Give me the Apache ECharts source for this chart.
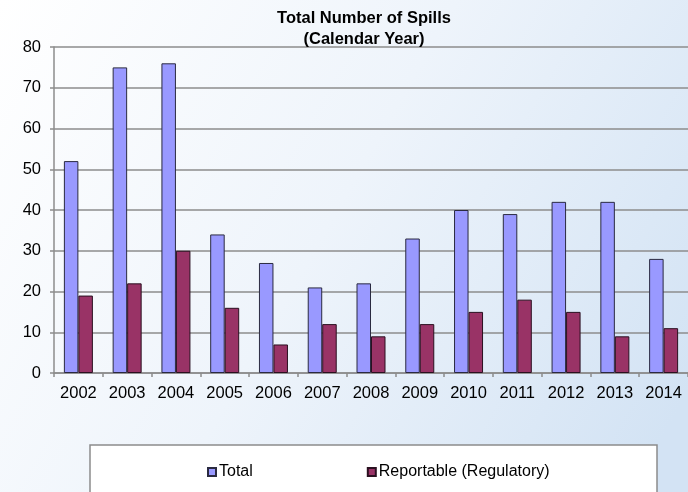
<!DOCTYPE html>
<html>
<head>
<meta charset="utf-8">
<script src="https://cdn.jsdelivr.net/npm/echarts@6/dist/echarts.min.js"></script>
<style>
  html, body { margin: 0; padding: 0; }
  #chart { width: 688px; height: 492px; }
</style>
</head>
<body>
<div id="chart"></div>
<script>
// Spill counts per calendar year
const years = ['2002', '2003', '2004', '2005', '2006', '2007', '2008', '2009', '2010', '2011', '2012', '2013', '2014'];
const totalSpills = [52, 75, 76, 34, 27, 21, 22, 33, 40, 39, 42, 42, 28];
const reportableSpills = [19, 22, 30, 16, 7, 12, 9, 12, 15, 18, 15, 9, 11];
const yTicks = [0, 10, 20, 30, 40, 50, 60, 70, 80];

const FONT = '"Liberation Sans", Arial, sans-serif';
const axisGray = '#8c8c8c';

const chart = echarts.init(document.getElementById('chart'), null, { renderer: 'canvas' });

chart.setOption({
  animation: false,
  backgroundColor: {
    type: 'linear', x: 0, y: 0, x2: 1, y2: 0.8,
    colorStops: [
      { offset: 0, color: '#ffffff' },
      { offset: 0.5, color: '#eef4fb' },
      { offset: 1, color: '#d3e3f4' }
    ]
  },
  title: {
    text: 'Total Number of Spills\n(Calendar Year)',
    left: 364,
    top: 8,
    padding: 0,
    textAlign: 'center',
    textStyle: {
      fontFamily: FONT,
      fontWeight: 'bold',
      fontSize: 16.5,
      lineHeight: 21,
      color: '#000'
    }
  },
  graphic: [{
    type: 'rect',
    z: -1,
    shape: { x: 90, y: 445, width: 567, height: 60 },
    style: { fill: '#ffffff', stroke: '#8c8c8c', lineWidth: 1.5 }
  }],
  legend: {
    left: 202,
    top: 459,
    itemWidth: 8,
    itemHeight: 8,
    itemGap: 114,
    icon: 'rect',
    textStyle: { fontFamily: FONT, fontSize: 16, color: '#000', padding: [0, 0, 0, -2] },
    data: ['Total', 'Reportable (Regulatory)']
  },
  grid: {
    left: 54,
    right: -4,
    top: 47,
    bottom: 119,
    containLabel: false
  },
  xAxis: {
    type: 'category',
    data: years,
    axisLine: { lineStyle: { color: axisGray, width: 1.5 } },
    axisTick: { show: true, alignWithLabel: false, length: 4, lineStyle: { color: axisGray, width: 1.5 } },
    axisLabel: { fontFamily: FONT, fontSize: 16.5, color: '#000', margin: 12 },
    splitLine: { show: false }
  },
  yAxis: {
    type: 'value',
    min: yTicks[0],
    max: yTicks[yTicks.length - 1],
    interval: yTicks[1] - yTicks[0],
    axisLine: { show: true, lineStyle: { color: axisGray, width: 1.5 } },
    axisTick: { show: true, length: 4, lineStyle: { color: axisGray, width: 1.5 } },
    axisLabel: { fontFamily: FONT, fontSize: 16.5, color: '#000', margin: 13 },
    splitLine: { show: true, lineStyle: { color: axisGray, width: 1.5 } }
  },
  series: [
    {
      name: 'Total',
      type: 'bar',
      data: totalSpills,
      barWidth: 14.5,
      barGap: '0%',
      itemStyle: { color: '#9999ff', borderColor: '#2a2a40', borderWidth: 1 }
    },
    {
      name: 'Reportable (Regulatory)',
      type: 'bar',
      data: reportableSpills,
      barWidth: 14.5,
      barGap: '0%',
      itemStyle: { color: '#993366', borderColor: '#2a1020', borderWidth: 1 }
    }
  ]
});
</script>
</body>
</html>
